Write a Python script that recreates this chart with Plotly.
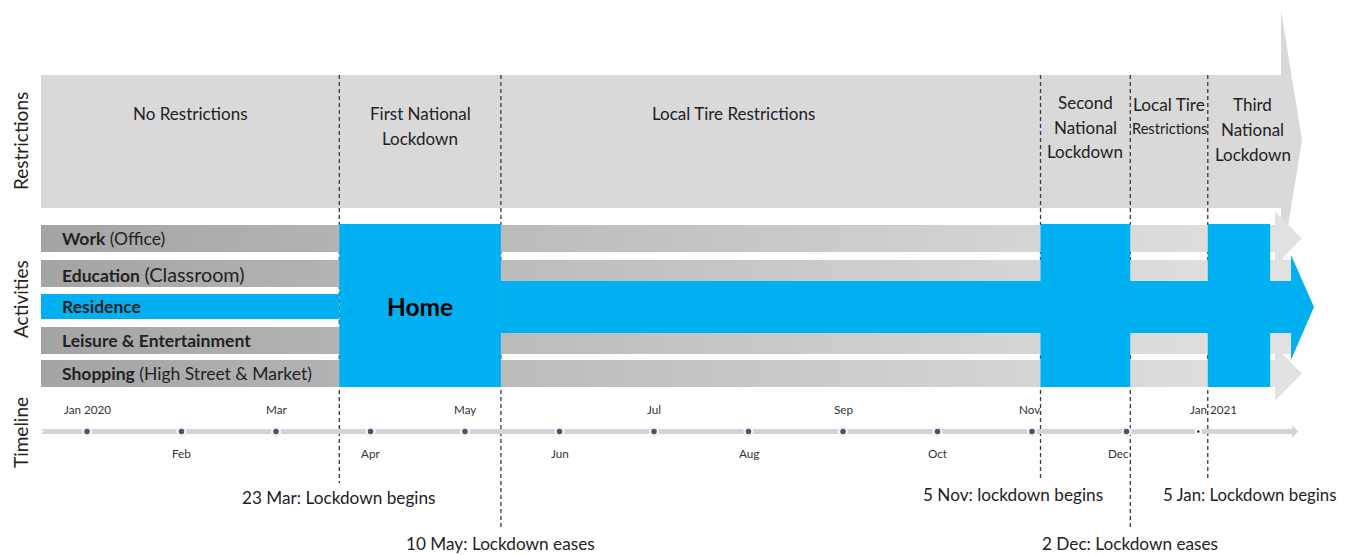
import plotly.graph_objects as go

# ---------------- data ----------------
month_labels = ["Jan 2020", "Feb", "Mar", "Apr", "May", "Jun", "Jul",
                "Aug", "Sep", "Oct", "Nov", "Dec", "Jan 2021"]
month_pos = [0, 1, 2, 3, 4, 5, 6, 7, 8, 9, 10, 11, 11.76]

event_labels = ["23 Mar: Lockdown begins", "10 May: Lockdown eases",
                "5 Nov: lockdown begins", "2 Dec: Lockdown eases",
                "5 Jan: Lockdown begins"]
event_pos = [2.67, 4.38, 10.09, 11.04, 11.86]

phase_lines = [["No Restrictions"], ["First National", "Lockdown"],
               ["Local Tire Restrictions"], ["Second", "National", "Lockdown"],
               ["Local Tire", "Restrictions"], ["Third", "National", "Lockdown"]]

activity_names = ["Work", "Education", "Residence",
                  "Leisure & Entertainment", "Shopping"]
activity_details = ["(Office)", "(Classroom)", "", "", "(High Street & Market)"]

lockdown_start = [2.67, 10.09, 11.86]
lockdown_end = [4.38, 11.04, 12.52]
home_label = "Home"

axis_titles = ["Restrictions", "Activities", "Timeline"]

# ---------------- layout helpers (window pixel geometry -> month units) ----------------
WIN_W, WIN_H = 1348, 555
OFF = 8                      # page margin of the browser body
FIG_W, FIG_H = WIN_W - OFF, WIN_H - OFF
X0, DX = 87.0, 94.5


def X(p):
    return (p - X0) / DX


FONT = "Lato, Carlito, Calibri, sans-serif"
BLUE = "#00B0F0"
TXT = "#222222"

fig = go.Figure()


def poly(xs_px, ys, color=None, grad=None):
    xs = [X(p) for p in xs_px]
    kw = dict(x=xs + [xs[0]], y=ys + [ys[0]], mode="lines", fill="toself",
              line=dict(width=0), hoverinfo="skip", showlegend=False)
    if grad is not None:
        kw["fillgradient"] = grad
    else:
        kw["fillcolor"] = color
    fig.add_trace(go.Scatter(**kw))


left_px = 41
# Restrictions band (big arrow)
poly([left_px, 1281, 1281, 1302, 1281, 1281, left_px],
     [75, 75, 10, 140, 270, 208, 208], color="#d9d9d9")

# Dashed event lines
line_bottom = [483, 530, 478, 530, 478]
for xp, yb in zip(event_pos, line_bottom):
    fig.add_trace(go.Scatter(x=[xp, xp], y=[75, yb], mode="lines",
                             line=dict(color="#3a3a3a", width=1.3, dash="4px,3px"),
                             hoverinfo="skip", showlegend=False))

# Activity rows (gray, gradient)
row_y = [(225, 252), (260, 287), (294, 319), (327, 354), (360, 387)]
grad = dict(type="horizontal", colorscale=[[0, "#a4a4a4"], [1, "#e2e2e2"]])
for i, (y0, y1) in enumerate(row_y):
    if activity_names[i] == "Residence":
        continue
    if i in (0, 4):
        ym = (y0 + y1) / 2
        poly([left_px, 1275, 1275, 1302, 1275, 1275, left_px],
             [y0, y0, ym - 27, ym, ym + 27, y1, y1], grad=grad)
    else:
        poly([left_px, 1291, 1291, left_px], [y0, y0, y1, y1], grad=grad)

# Residence / Home (blue)
ry0, ry1 = row_y[2]
poly([left_px, 339, 339, left_px], [ry0, ry0, ry1, ry1], color=BLUE)
poly([501, 1291, 1291, 1314, 1291, 1291, 501],
     [281, 281, 255, 307, 360, 333, 333], color=BLUE)
for s, e in zip(lockdown_start, lockdown_end):
    sp, ep = X0 + s * DX, X0 + e * DX
    poly([sp, ep, ep, sp], [224, 224, 387, 387], color=BLUE)

# Timeline arrow
poly([41, 1292, 1292, 1298, 1292, 1292, 41, 44],
     [429, 429, 425, 431.5, 438, 434, 434, 431.5], color="#d2d3d8")

# Timeline dots
fig.add_trace(go.Scatter(x=month_pos[:-1], y=[431.5] * (len(month_pos) - 1),
                         mode="markers",
                         marker=dict(size=8, color="#44546a",
                                     line=dict(width=2.5, color="#f2f2f5")),
                         hoverinfo="skip", showlegend=False))
fig.add_trace(go.Scatter(x=month_pos[-1:], y=[431.5], mode="markers",
                         marker=dict(size=5, color="#222222",
                                     line=dict(width=2.5, color="#ffffff")),
                         hoverinfo="skip", showlegend=False))

ann = []


def text(xm, y, t, size, bold=False, xanchor="center", angle=0, color=TXT, xshift=0):
    if bold:
        t = "<b>" + t + "</b>"
    ann.append(dict(x=xm, y=y, xref="x", yref="y", text=t, showarrow=False,
                    xanchor=xanchor, yanchor="middle", textangle=angle,
                    xshift=xshift, font=dict(family=FONT, size=size, color=color)))


# Month labels (alternating above / below)
month_shift = [0, 0, 0, 0, 0, 0, 0, 0, 0, 0, -3, -8, 15]
for i, (lab, mp) in enumerate(zip(month_labels, month_pos)):
    y = 409 if i % 2 == 0 else 453
    text(mp, y, lab, 11.7, color="#333333", xshift=month_shift[i])

# Event labels
ev_shift = [0, 0, -28, 0, 42]
ev_y = [497, 543, 494, 543, 494]
ev_size = [17.2, 17.2, 17.2, 17.2, 16.8]
for lab, xp, sh, y, sz in zip(event_labels, event_pos, ev_shift, ev_y, ev_size):
    text(xp, y, lab, sz, xshift=sh)

# Phase labels
bounds = [X(left_px)] + event_pos + [X(1302)]
phase_y = [[113], [113, 138], [113], [102, 127, 151], [104, 128], [104, 129, 154]]
phase_size = [[17], [17, 17], [17], [17, 17, 17], [17.2, 14.6], [17, 17, 17]]
phase_shift = [0, 0, -37, 0, 0, -2]
for k, lines in enumerate(phase_lines):
    cx = (bounds[k] + bounds[k + 1]) / 2
    for ln, y, sz in zip(lines, phase_y[k], phase_size[k]):
        text(cx, y, ln, sz, xshift=phase_shift[k])

# Activity labels
for i, (nm, det) in enumerate(zip(activity_names, activity_details)):
    y0, y1 = row_y[i]
    t = "<b>" + nm + "</b>"
    if det:
        if nm == "Education":
            t += " <span style='font-size:19.8px'>" + det + "</span>"
        else:
            t += " " + det
    text(X(60), (y0 + y1) / 2, t, 17.5, xanchor="left")

# Home label
text((lockdown_start[0] + lockdown_end[0]) / 2, 306, home_label, 24.5, bold=True, color="#000000")

# Side titles
for t, y in zip(axis_titles, [141, 299, 433]):
    text(X(20), y, t, 19, angle=-90, color="#222222")

fig.update_layout(
    width=FIG_W, height=FIG_H, margin=dict(l=0, r=0, t=0, b=0),
    paper_bgcolor="white", plot_bgcolor="white",
    xaxis=dict(range=[X(OFF), X(WIN_W)], visible=False, fixedrange=True),
    yaxis=dict(range=[WIN_H, OFF], visible=False, fixedrange=True),
    annotations=ann, showlegend=False,
)
fig.write_html("out.html")
